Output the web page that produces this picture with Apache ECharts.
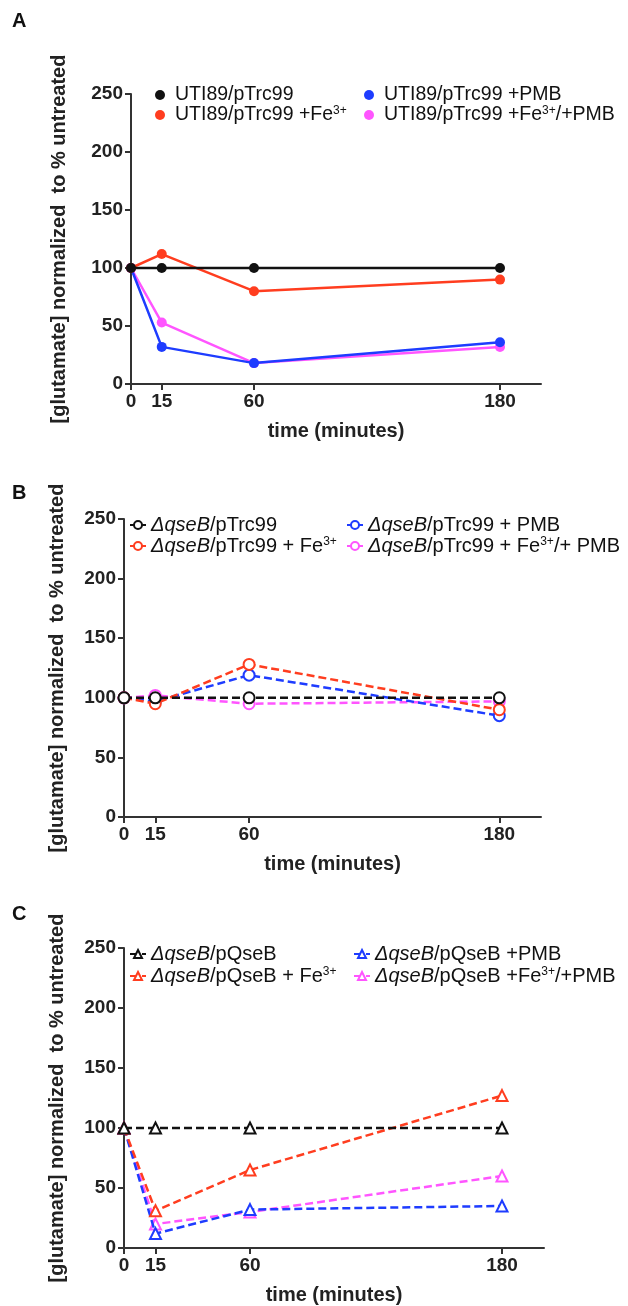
<!DOCTYPE html>
<html>
<head>
<meta charset="utf-8">
<script src="https://cdn.jsdelivr.net/npm/echarts@6/dist/echarts.min.js"></script>
<style>
  html, body { margin: 0; padding: 0; background: #fff; }
  #chart { width: 628px; height: 1306px; }
</style>
</head>
<body>
<div id="chart"></div>
<script>
// time points (minutes)
var timePoints = [0, 15, 60, 180];
var xTicks = [0, 15, 60, 180];

// panel A - UTI89/pTrc99
var aNames = ['UTI89/pTrc99', 'UTI89/pTrc99 +Fe3+', 'UTI89/pTrc99 +PMB', 'UTI89/pTrc99 +Fe3+/+PMB'];
var aControl = [100, 100, 100, 100];
var aFe = [100, 112, 80, 90];
var aPmb = [100, 32, 18, 36];
var aFePmb = [100, 53, 18, 32];

// panel B - deltaqseB/pTrc99
var bNames = ['ΔqseB/pTrc99', 'ΔqseB/pTrc99 + Fe3+', 'ΔqseB/pTrc99 + PMB', 'ΔqseB/pTrc99 + Fe3+/+ PMB'];
var bControl = [100, 100, 100, 100];
var bFe = [100, 95, 128, 90];
var bPmb = [100, 97, 119, 85];
var bFePmb = [100, 102, 95, 97];

// panel C - deltaqseB/pQseB
var cNames = ['ΔqseB/pQseB', 'ΔqseB/pQseB + Fe3+', 'ΔqseB/pQseB +PMB', 'ΔqseB/pQseB +Fe3+/+PMB'];
var cControl = [100, 100, 100, 100];
var cFe = [100, 31, 65, 127];
var cPmb = [100, 12, 32, 35];
var cFePmb = [100, 20, 30, 60];

var yTitle = '[glutamate] normalized  to % untreated';
var xTitle = 'time (minutes)';

var colors = ['#111111', '#ff3d1f', '#1e3cff', '#ff55ff'];
var font = "'Liberation Sans', Arial, sans-serif";

function pairs(vals) {
  return timePoints.map(function (t, i) { return [t, vals[i]]; });
}

var grids = [
  {left: 131, top: 94, width: 410, height: 290},
  {left: 124, top: 519, width: 417, height: 298},
  {left: 124, top: 948, width: 420, height: 300}
];
var yGaps = [62, 57, 57];

var panels = [
  {names: aNames, data: [aControl, aFe, aPmb, aFePmb], symbol: 'circle', dashed: false},
  {names: bNames, data: [bControl, bFe, bPmb, bFePmb], symbol: 'emptyCircle', dashed: true},
  {names: cNames, data: [cControl, cFe, cPmb, cFePmb], symbol: 'emptyTriangle', dashed: true}
];

// legend text positions: [textLeft col1, textLeft col2, row1 center, row2 center]
var legendPos = [
  [180, 389, 95, 115],
  [150, 367, 525, 546],
  [150, 374, 954, 976]
];

function richName(name) {
  return name.replace('ΔqseB', '{it|ΔqseB}').replace(/Fe3\+/g, 'Fe{sup|3+}');
}

var xAxes = [], yAxes = [], series = [], legends = [];

grids.forEach(function (g, gi) {
  g.outerBoundsMode = 'none';
  xAxes.push({
    type: 'value', gridIndex: gi, min: 0, max: 200,
    axisLine: {show: true, lineStyle: {color: '#333', width: 2}},
    axisTick: {show: true, length: 6, customValues: xTicks, lineStyle: {color: '#333', width: 2}},
    axisLabel: {customValues: xTicks, fontFamily: font, fontWeight: 'bold', fontSize: 19, color: '#222', margin: 8},
    splitLine: {show: false},
    name: xTitle, nameLocation: 'middle', nameGap: 37,
    nameTextStyle: {fontFamily: font, fontWeight: 'bold', fontSize: 20, color: '#222'}
  });
  yAxes.push({
    type: 'value', gridIndex: gi, min: 0, max: 250, interval: 50,
    axisLine: {show: true, lineStyle: {color: '#333', width: 2}},
    axisTick: {show: true, length: 6, lineStyle: {color: '#333', width: 2}},
    axisLabel: {fontFamily: font, fontWeight: 'bold', fontSize: 19, color: '#222', margin: 8},
    splitLine: {show: false},
    name: yTitle, nameLocation: 'middle', nameGap: yGaps[gi],
    nameTextStyle: {fontFamily: font, fontWeight: 'bold', fontSize: 20, color: '#222'}
  });

  var p = panels[gi];
  p.names.forEach(function (name, si) {
    series.push({
      name: name,
      type: 'line',
      xAxisIndex: gi,
      yAxisIndex: gi,
      data: pairs(p.data[si]),
      symbol: p.symbol,
      symbolSize: p.dashed ? 11 : 10,
      color: colors[si],
      itemStyle: {color: colors[si], borderWidth: p.dashed ? 1.5 : 1},
      lineStyle: {width: 2.5, type: p.dashed ? [8, 4] : 'solid', color: colors[si]},
      z: 10 - si
    });

    var lp = legendPos[gi];
    var col = si < 2 ? 0 : 1;
    var row = si % 2;
    var itemW = gi === 0 ? 20 : 16;
    legends.push({
      data: [name],
      left: lp[col] - 5 - itemW,
      top: lp[2 + row] - 10,
      padding: 0,
      itemWidth: itemW,
      itemHeight: 10,
      itemGap: 0,
      icon: gi === 0 ? 'circle' : undefined,
      formatter: richName,
      textStyle: {
        fontFamily: font, fontSize: gi === 0 ? 19.5 : 20, color: '#111', lineHeight: 20,
        rich: {
          it: {fontFamily: font, fontSize: 20, fontStyle: 'italic', color: '#111', lineHeight: 20},
          sup: {fontFamily: font, fontSize: 12, color: '#111', verticalAlign: 'top', lineHeight: 12}
        }
      }
    });
  });
});

var chart = echarts.init(document.getElementById('chart'));
chart.setOption({
  animation: false,
  backgroundColor: '#fff',
  grid: grids,
  xAxis: xAxes,
  yAxis: yAxes,
  legend: legends,
  series: series,
  graphic: [
    {type: 'text', left: 12, top: 11, style: {text: 'A', font: 'bold 20px ' + font, fill: '#111'}},
    {type: 'text', left: 12, top: 483, style: {text: 'B', font: 'bold 20px ' + font, fill: '#111'}},
    {type: 'text', left: 12, top: 904, style: {text: 'C', font: 'bold 20px ' + font, fill: '#111'}}
  ]
});
</script>
</body>
</html>
